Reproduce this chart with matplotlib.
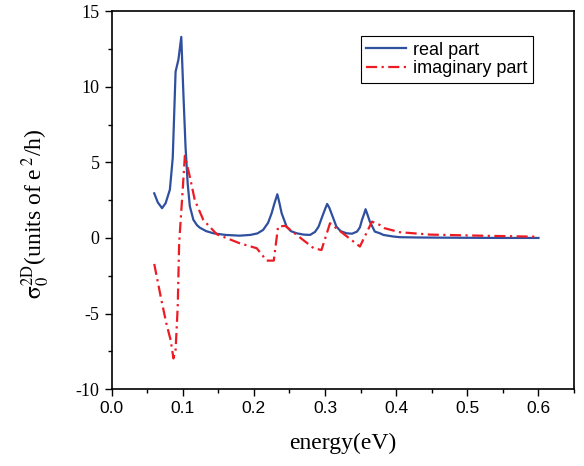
import matplotlib
matplotlib.use('Agg')
from matplotlib import pyplot as plt
from matplotlib.ticker import MultipleLocator

# real part of the conductivity (blue solid)
energy_re = [0.060, 0.065, 0.071, 0.076, 0.082, 0.086, 0.090, 0.094, 0.098,
             0.101, 0.104, 0.107, 0.110, 0.115, 0.120, 0.124, 0.133, 0.143,
             0.160, 0.180, 0.195, 0.205, 0.213, 0.220, 0.225, 0.229, 0.233,
             0.236, 0.239, 0.246, 0.252, 0.260, 0.270, 0.279, 0.286, 0.291,
             0.296, 0.300, 0.303, 0.306, 0.309, 0.316, 0.322, 0.330, 0.338,
             0.345, 0.349, 0.352, 0.355, 0.357, 0.360, 0.363, 0.370, 0.377,
             0.382, 0.395, 0.405, 0.43, 0.46, 0.50, 0.55, 0.60]
sigma_re = [2.95, 2.35, 1.97, 2.3, 3.2, 5.3, 11.0, 11.8, 13.3,
            9.5, 6.0, 3.6, 2.1, 1.2, 0.85, 0.68, 0.45, 0.31,
            0.2, 0.15, 0.2, 0.3, 0.53, 1.0, 1.64, 2.3, 2.89,
            2.3, 1.64, 0.75, 0.45, 0.31, 0.22, 0.2, 0.4, 0.75,
            1.4, 1.9, 2.25, 2.0, 1.63, 0.75, 0.45, 0.31, 0.28,
            0.42, 0.7, 1.2, 1.6, 1.9, 1.5, 1.08, 0.42, 0.31,
            0.2, 0.1, 0.05, 0.03, 0.02, 0.01, 0.0, 0.0]

# imaginary part (red dash-dot)
energy_im = [0.060, 0.070, 0.077, 0.083, 0.087, 0.090, 0.093, 0.095, 0.100,
             0.103, 0.110, 0.117, 0.129, 0.148, 0.180, 0.204, 0.218, 0.228,
             0.234, 0.244, 0.284, 0.295, 0.307, 0.349, 0.366, 0.377, 0.384,
             0.405, 0.448, 0.518, 0.588, 0.600]
sigma_im = [-1.72, -4.1, -5.65, -6.75, -7.97, -7.4, -4.55, -0.35, 3.18,
            5.43, 4.06, 2.5, 1.19, 0.24, -0.35, -0.68, -1.5, -1.5,
            0.75, 0.8, -0.68, -0.8, 0.97, -0.57, 1.08, 0.86, 0.64,
            0.38, 0.22, 0.15, 0.09, 0.08]

plt.rcParams['mathtext.fontset'] = 'stix'
plt.rcParams['axes.unicode_minus'] = False

fig = plt.figure(figsize=(5.84, 4.66), dpi=100)
ax = fig.add_axes([0.191, 0.165, 0.792, 0.811])

ax.plot(energy_re, sigma_re, color='#2f4f9f', lw=1.6, label='real part')
ax.plot(energy_im, sigma_im, color='#ed1c24', lw=1.6, dashes=(5, 2, 1, 2),
        label='imaginary part')

ax.set_xlim(0, 0.65)
ax.set_ylim(-10, 15)
ax.xaxis.set_major_locator(MultipleLocator(0.1))
ax.xaxis.set_minor_locator(MultipleLocator(0.05))
ax.yaxis.set_major_locator(MultipleLocator(5))
ax.yaxis.set_minor_locator(MultipleLocator(2.5))
ax.tick_params(which='both', direction='out', top=False, right=False)
ax.tick_params(which='major', length=5, width=1)
ax.tick_params(which='minor', length=3, width=1)
ax.xaxis.set_major_formatter(plt.FuncFormatter(lambda v, p: '%.1f' % v))
ax.yaxis.set_major_formatter(plt.FuncFormatter(lambda v, p: '%d' % v))
for lab in ax.get_xticklabels():
    lab.set_fontfamily('Liberation Sans')
    lab.set_fontsize(12.5)
for lab in ax.get_yticklabels():
    lab.set_fontfamily('Liberation Serif')
    lab.set_fontsize(13)

for s in ax.spines.values():
    s.set_linewidth(1.2)

ax.set_xlabel('energy(eV)', fontsize=17, family='Liberation Serif', labelpad=12)
ax.set_ylabel(r'$\mathrm{\sigma}_0^{\mathrm{2D}}$(units of e$\,^2$/h)', fontsize=17,
              family='Liberation Serif')
ax.yaxis.set_label_coords(-0.128, 0.465)

leg = ax.legend(loc='upper right', bbox_to_anchor=(0.911, 0.934), fancybox=False,
                edgecolor='black', framealpha=1, handlelength=2.2,
                borderpad=0.3, labelspacing=0.1, handletextpad=0.4,
                borderaxespad=0,
                prop={'family': 'Liberation Sans', 'size': 13})
leg.get_frame().set_linewidth(0.8)

fig.savefig('out.png', dpi=100)
